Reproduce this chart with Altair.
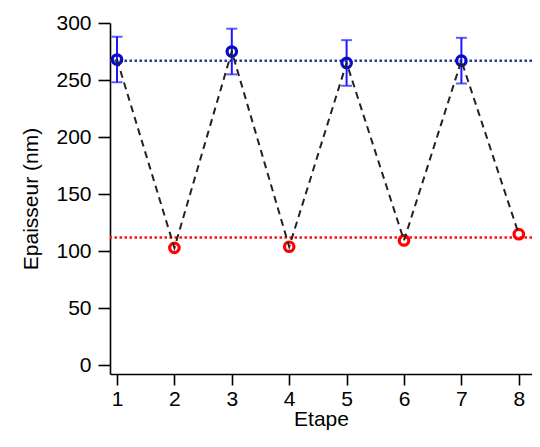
import altair as alt
import pandas as pd

etape = [1, 2, 3, 4, 5, 6, 7, 8]
epaisseur = [268, 103, 275, 104, 265, 109.5, 267, 115]
groupe = ["bleu", "rouge", "bleu", "rouge", "bleu", "rouge", "bleu", "rouge"]
erreur = [20, 0, 20, 0, 20, 0, 20, 0]
niveau_bleu = 267
niveau_rouge = 112
y_ticks = [0, 50, 100, 150, 200, 250, 300]

df = pd.DataFrame({"etape": etape, "epaisseur": epaisseur, "groupe": groupe, "erreur": erreur})
df["lo"] = df["epaisseur"] - df["erreur"]
df["hi"] = df["epaisseur"] + df["erreur"]
bleu = df[df["groupe"] == "bleu"]
rouge = df[df["groupe"] == "rouge"]

xs = alt.Scale(domain=[0.878, 8.23], nice=False, zero=False)
ys = alt.Scale(domain=[-7.5, 300], nice=False, zero=False)

X = alt.X("etape:Q", scale=xs, axis=alt.Axis(values=etape, title="Etape", format="d",
                                              tickSize=11, labelPadding=3, titlePadding=-1))
Y = alt.Y("epaisseur:Q", scale=ys, axis=alt.Axis(values=y_ticks, title="Epaisseur (nm)",
                                                 tickSize=12, labelPadding=7, titlePadding=14))

base = alt.Chart(df)

ligne_bleu = alt.Chart(pd.DataFrame({"v": [niveau_bleu]})).mark_rule(
    color="#1f3f8f", strokeWidth=2.5, strokeDash=[2.5, 2.5]
).encode(y=alt.Y("v:Q", scale=ys))
ligne_rouge = alt.Chart(pd.DataFrame({"v": [niveau_rouge]})).mark_rule(
    color="#ff1010", strokeWidth=2.5, strokeDash=[2.5, 2.5]
).encode(y=alt.Y("v:Q", scale=ys))

err = alt.Chart(bleu).mark_rule(color="#1a1aff", strokeWidth=2).encode(
    x=X, y=alt.Y("lo:Q", scale=ys), y2="hi:Q")
cap_hi = alt.Chart(bleu).mark_tick(color="#1a1aff", orient="horizontal", size=11, thickness=2).encode(
    x=X, y=alt.Y("hi:Q", scale=ys))
cap_lo = alt.Chart(bleu).mark_tick(color="#1a1aff", orient="horizontal", size=11, thickness=2).encode(
    x=X, y=alt.Y("lo:Q", scale=ys))

pts_bleu = alt.Chart(bleu).mark_point(shape="circle", filled=False, color="#0a0ac8",
                                      strokeWidth=3.2, size=90, opacity=1).encode(x=X, y=Y)
pts_rouge = alt.Chart(rouge).mark_point(shape="circle", filled=False, color="#ff0000",
                                        strokeWidth=3.2, size=90, opacity=1).encode(x=X, y=Y)

trait = base.mark_line(color="#222222", strokeWidth=2, strokeDash=[7, 5]).encode(x=X, y=Y, order="etape:Q")

chart = alt.layer(ligne_bleu, ligne_rouge, err, cap_hi, cap_lo, pts_bleu, pts_rouge, trait).properties(
    width=422, height=351,
    autosize=alt.AutoSizeParams(type="none"),
    padding={"left": 102, "top": 15, "right": 0, "bottom": 57},
).configure_view(stroke=None).configure_axis(
    grid=False,
    labelFont="Liberation Sans", titleFont="Liberation Sans",
    labelFontSize=21, titleFontSize=21, titleFontWeight="normal",
    labelColor="black", titleColor="black",
    domainColor="black", tickColor="black", domainWidth=1.6, tickWidth=1.6,
)

chart.save("out.html", embed_options={"renderer": "svg", "actions": False})
